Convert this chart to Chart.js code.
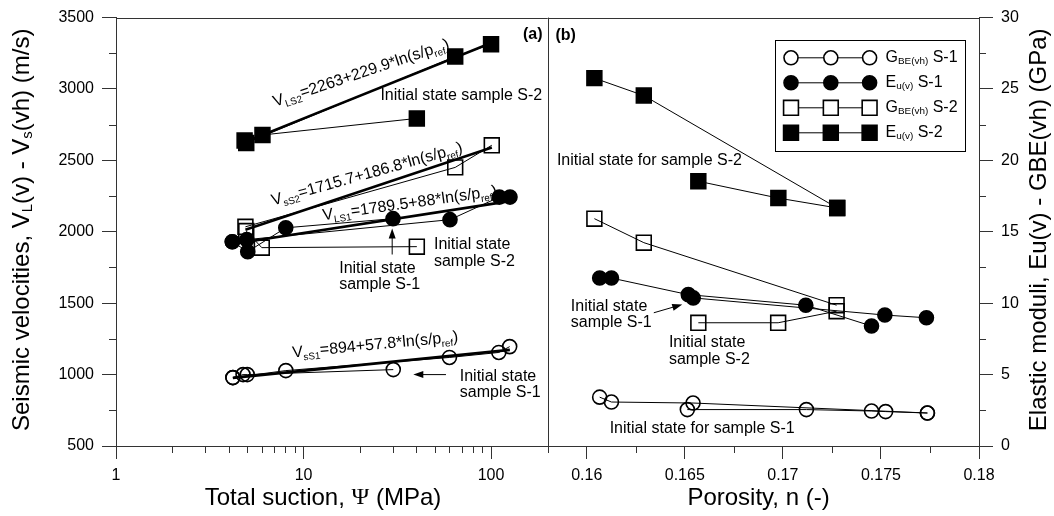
<!DOCTYPE html>
<html>
<head>
<meta charset="utf-8">
<title>Seismic velocities and elastic moduli</title>
<script src="https://cdn.jsdelivr.net/npm/chart.js@4.4.1/dist/chart.umd.min.js"></script>
<style>
  html, body { margin: 0; background: #fff; }
  canvas { display: block; }
</style>
</head>
<body>
<canvas id="plot" width="1054" height="516"></canvas>
<script>
// ---- (a) seismic velocity [m/s] vs total suction [MPa], pairs [suction, velocity] ----
// V_L sample S-2 (filled squares)
const vlS2Wetting = [[40.2, 2794], [6.04, 2678], [4.85, 2640]];
const vlS2Drying = [[4.95, 2622], [64.4, 3227], [100, 3314]];
// V_s sample S-2 (open squares)
const vsS2Wetting = [[40.2, 1896], [5.99, 1889], [4.95, 2005]];
const vsS2Drying = [[4.9, 2035], [64.4, 2451], [100.9, 2606]];
// V_L sample S-1 (filled circles)
const vlS1Wetting = [[30, 2092], [8.04, 2028], [5.04, 1861], [4.17, 1930]];
const vlS1Drying = [[4.17, 1930], [4.98, 1945], [60.4, 2085], [110.7, 2243], [126.2, 2243]];
// V_s sample S-1 (open circles)
const vsS1Wetting = [[30.1, 1035], [5.01, 1000], [4.76, 1000], [4.2, 979]];
const vsS1Drying = [[4.2, 979], [8.05, 1028], [60, 1120], [110, 1155], [125.7, 1196]];
// fitted trends V = a + b*ln(s/p_ref), end points
const fitLS2 = [[4.9, 2630], [100, 3322]];
const fitSS2 = [[4.9, 2015], [101, 2590]];
const fitLS1 = [[4.17, 1915], [126, 2215]];
const fitSS1 = [[4.2, 977], [126, 1173]];

// ---- (b) elastic moduli [GPa] vs porosity [-], pairs [porosity, modulus] ----
const eS2Path1 = [[0.16039, 25.76], [0.16291, 24.54], [0.17277, 16.67]];
const eS2Path2 = [[0.16569, 18.54], [0.16977, 17.36], [0.17277, 16.67]];
const gS2Path1 = [[0.16039, 15.92], [0.16291, 14.24], [0.17274, 9.86]];
const gS2Path2 = [[0.16569, 8.63], [0.16976, 8.63], [0.17274, 9.44]];
const eS1Path1 = [[0.16066, 11.76], [0.16126, 11.76], [0.16518, 10.6], [0.17117, 9.86], [0.17452, 8.4]];
const eS1Path2 = [[0.16543, 10.37], [0.1752, 9.17], [0.17732, 8.98]];
const gS1Path1 = [[0.16066, 3.42], [0.16126, 3.08], [0.16542, 3.01], [0.17737, 2.31]];
const gS1Path2 = [[0.16513, 2.55], [0.1712, 2.55], [0.17452, 2.45], [0.17524, 2.41], [0.17737, 2.31]];

// axis ticks
const suctionTicks = [1, 2, 3, 4, 5, 6, 7, 8, 9, 10, 20, 30, 40, 50, 60, 70, 80, 90, 100, 200];
const suctionLabels = [1, 10, 100];
const porosityTicks = [0.16, 0.1625, 0.165, 0.1675, 0.17, 0.1725, 0.175, 0.1775, 0.18];
const porosityLabels = [0.16, 0.165, 0.17, 0.175, 0.18];

const FONT = '"Liberation Sans", Arial, Helvetica, sans-serif';
const SERIF = '"Liberation Serif", "Times New Roman", serif';
const AXIS = '#333';
const CLEAR = 'rgba(0,0,0,0)';

const openCircle = { shape: 'circle', r: 7, fill: CLEAR };
const filledCircle = { shape: 'circle', r: 7, fill: '#000' };
const openSquare = { shape: 'rect', r: 10.5, fill: CLEAR };
const filledSquare = { shape: 'rect', r: 10.5, fill: '#000' };

// text placed in axis units
const notes = [
  { panel: 'a', x: 25.7, y: 2953, lines: ['Initial state sample S-2'] },
  { panel: 'a', x: 49.6, y: 1908, lines: ['Initial state', 'sample S-2'] },
  { panel: 'a', x: 15.5, y: 1745, lines: ['Initial state', 'sample S-1'] },
  { panel: 'a', x: 68.1, y: 988, lines: ['Initial state', 'sample S-1'] },
  { panel: 'b', x: 0.15848, y: 19.98, lines: ['Initial state for sample S-2'] },
  { panel: 'b', x: 0.15919, y: 9.79, lines: ['Initial state', 'sample S-1'] },
  { panel: 'b', x: 0.16419, y: 7.24, lines: ['Initial state', 'sample S-2'] },
  { panel: 'b', x: 0.16117, y: 1.23, lines: ['Initial state for sample S-1'] },
];
const pointers = [
  { panel: 'a', from: [29.7, 1841], to: [29.7, 2023] },
  { panel: 'a', from: [57.5, 1000], to: [38.5, 1000] },
  { panel: 'b', from: [0.16342, 9.33], to: [0.16487, 9.91] },
];
const fitLabels = [
  { x: 7.05, y: 2875, angle: 18.5, parts: [['V'], ['LS2', 1], ['=2263+229.9*ln(s/p'], ['ref', 1], [')']] },
  { x: 6.88, y: 2185, angle: 15.7, parts: [['V'], ['sS2', 1], ['=1715.7+186.8*ln(s/p'], ['ref', 1], [')']] },
  { x: 12.76, y: 2081, angle: 8, parts: [['V'], ['LS1', 1], ['=1789.5+88*ln(s/p'], ['ref', 1], [')']] },
  { x: 8.76, y: 1120, angle: 5.5, parts: [['V'], ['sS1', 1], ['=894+57.8*ln(s/p'], ['ref', 1], [')']] },
];
const legendRows = [
  { parts: [['G'], ['BE(vh)', 1], [' S-1']], marker: openCircle },
  { parts: [['E'], ['u(v)', 1], [' S-1']], marker: filledCircle },
  { parts: [['G'], ['BE(vh)', 1], [' S-2']], marker: openSquare },
  { parts: [['E'], ['u(v)', 1], [' S-2']], marker: filledSquare },
];

const near = (list) => (v) => list.some((m) => Math.abs(m - v) < 1e-7);
const isDecade = near(suctionLabels);
const isHalfCent = near(porosityLabels);
const isFiveHundred = (v) => Math.abs(v / 500 - Math.round(v / 500)) < 1e-6;
const isFive = (v) => Math.abs(v / 5 - Math.round(v / 5)) < 1e-6;

function series(points, panel, marker) {
  return {
    data: points.map(([x, y]) => ({ x, y })),
    xAxisID: panel === 'a' ? 'xL' : 'xR',
    yAxisID: panel === 'a' ? 'yL' : 'yR',
    showLine: true,
    borderColor: '#000',
    borderWidth: 1,
    pointStyle: marker.shape,
    pointRadius: marker.r,
    pointBackgroundColor: marker.fill,
    pointBorderColor: '#000',
    pointBorderWidth: 1.6,
  };
}
function trend(points) {
  return {
    data: points.map(([x, y]) => ({ x, y })),
    xAxisID: 'xL', yAxisID: 'yL',
    showLine: true, borderColor: '#000', borderWidth: 2.6, pointRadius: 0,
  };
}

function partFont(size, part) {
  const sub = part[1];
  return (sub ? size * 0.62 : size) + 'px ' + (part[2] || FONT);
}
function richWidth(ctx, parts, size) {
  let w = 0;
  for (const p of parts) { ctx.font = partFont(size, p); w += ctx.measureText(p[0]).width; }
  return w;
}
function drawRich(ctx, parts, x, y, size) {
  for (const p of parts) {
    ctx.font = partFont(size, p);
    ctx.fillText(p[0], x, p[1] ? y + size * 0.24 : y);
    x += ctx.measureText(p[0]).width;
  }
}
function drawMarker(ctx, m, x, y, fill) {
  ctx.beginPath();
  if (m.shape === 'circle') ctx.arc(x, y, m.r, 0, Math.PI * 2);
  else { const h = m.r * Math.SQRT1_2; ctx.rect(x - h, y - h, 2 * h, 2 * h); }
  ctx.fillStyle = m.fill === CLEAR ? fill : m.fill;
  ctx.fill();
  ctx.lineWidth = 1.6;
  ctx.strokeStyle = '#000';
  ctx.stroke();
}
function drawArrow(ctx, x1, y1, x2, y2) {
  const a = Math.atan2(y2 - y1, x2 - x1), c = Math.cos(a), s = Math.sin(a);
  ctx.lineWidth = 1;
  ctx.beginPath(); ctx.moveTo(x1, y1); ctx.lineTo(x2 - 6 * c, y2 - 6 * s); ctx.stroke();
  ctx.beginPath();
  ctx.moveTo(x2, y2);
  ctx.lineTo(x2 - 10 * c + 3.5 * s, y2 - 10 * s - 3.5 * c);
  ctx.lineTo(x2 - 10 * c - 3.5 * s, y2 - 10 * s + 3.5 * c);
  ctx.closePath(); ctx.fill();
}
function minorTicks(ctx, scale, isMajor, len) {
  ctx.beginPath();
  for (const t of scale.ticks) {
    if (isMajor(t.value)) continue;
    const p = Math.round(scale.getPixelForValue(t.value)) + 0.5;
    if (scale.isHorizontal()) { ctx.moveTo(p, scale.top); ctx.lineTo(p, scale.top + len); }
    else if (scale.position === 'left') { ctx.moveTo(scale.right, p); ctx.lineTo(scale.right - len, p); }
    else { ctx.moveTo(scale.left, p); ctx.lineTo(scale.left + len, p); }
  }
  ctx.stroke();
}

const panelInk = {
  id: 'panelInk',
  afterDraw(chart) {
    const { ctx, chartArea: area, scales } = chart;
    const pick = (panel) => panel === 'a' ? [scales.xL, scales.yL] : [scales.xR, scales.yR];
    ctx.save();

    // frame top and the panel divider
    ctx.strokeStyle = AXIS; ctx.lineWidth = 1;
    const mid = Math.round(scales.xL.right) + 0.5;
    ctx.beginPath();
    ctx.moveTo(area.left, Math.round(area.top) + 0.5); ctx.lineTo(area.right, Math.round(area.top) + 0.5);
    ctx.moveTo(mid, area.top); ctx.lineTo(mid, area.bottom + 7);
    ctx.stroke();

    // short minor ticks
    minorTicks(ctx, scales.xL, isDecade, 7);
    minorTicks(ctx, scales.xR, isHalfCent, 7);
    minorTicks(ctx, scales.yL, isFiveHundred, 7);
    minorTicks(ctx, scales.yR, isFive, 7);

    ctx.fillStyle = '#000'; ctx.strokeStyle = '#000';
    ctx.textBaseline = 'middle'; ctx.textAlign = 'left';

    // panel tags
    ctx.font = 'bold 16px ' + FONT;
    ctx.textAlign = 'right';
    ctx.fillText('(a)', scales.xL.right - 5, area.top + 17);
    ctx.textAlign = 'left';
    ctx.fillText('(b)', scales.xR.left + 8, area.top + 18);

    // notes and pointers
    ctx.font = '16px ' + FONT;
    for (const n of notes) {
      const [sx, sy] = pick(n.panel);
      const x = sx.getPixelForValue(n.x), y = sy.getPixelForValue(n.y);
      n.lines.forEach((t, i) => ctx.fillText(t, x, y + i * 16.7));
    }
    for (const p of pointers) {
      const [sx, sy] = pick(p.panel);
      drawArrow(ctx, sx.getPixelForValue(p.from[0]), sy.getPixelForValue(p.from[1]),
        sx.getPixelForValue(p.to[0]), sy.getPixelForValue(p.to[1]));
    }

    // fitted-trend equations
    ctx.textBaseline = 'alphabetic';
    for (const f of fitLabels) {
      ctx.save();
      ctx.translate(scales.xL.getPixelForValue(f.x), scales.yL.getPixelForValue(f.y));
      ctx.rotate(-f.angle * Math.PI / 180);
      drawRich(ctx, f.parts, 0, 0, 16);
      ctx.restore();
    }

    // legend
    const lw = 190, lh = 111;
    const lx = Math.round(area.right - 14 - lw) + 0.5, ly = Math.round(area.top + 22) + 0.5;
    ctx.lineWidth = 1;
    ctx.strokeRect(lx, ly, lw, lh);
    legendRows.forEach((row, i) => {
      const y = ly + 17.3 + i * 25;
      const xs = [lx + 15.5, lx + 55.3, lx + 94.1];
      ctx.lineWidth = 1;
      ctx.beginPath(); ctx.moveTo(xs[0], y); ctx.lineTo(xs[2], y); ctx.stroke();
      xs.forEach((x) => drawMarker(ctx, row.marker, x, y, '#fff'));
      ctx.fillStyle = '#000';
      ctx.textBaseline = 'middle';
      drawRich(ctx, row.parts, lx + 110, y, 16);
    });

    // axis titles
    ctx.textBaseline = 'middle';
    const leftTitle = [['Seismic velocities, V'], ['L', 1], ['(v) - V'], ['s', 1], ['(vh) (m/s)']];
    const rightTitle = [['Elastic moduli, Eu(v) - GBE(vh) (GPa)']];
    const bottomA = [['Total suction, '], ['\u03A8', 0, SERIF], [' (MPa)']];
    const bottomB = [['Porosity, n (-)']];
    const cy = (area.top + area.bottom) / 2 - 2;
    for (const [parts, x] of [[leftTitle, 22], [rightTitle, area.right + 60]]) {
      ctx.save();
      ctx.translate(x, cy);
      ctx.rotate(-Math.PI / 2);
      drawRich(ctx, parts, -richWidth(ctx, parts, 24) / 2, 0, 24);
      ctx.restore();
    }
    drawRich(ctx, bottomA, scales.xL.left + 207 - richWidth(ctx, bottomA, 24) / 2, 498, 24);
    drawRich(ctx, bottomB, scales.xR.left + 211 - richWidth(ctx, bottomB, 24) / 2, 498, 24);
    ctx.restore();
  }
};

const tickFont = { family: FONT, size: 16 };
const majorColor = (test) => (c) => (c.tick && test(c.tick.value)) ? AXIS : CLEAR;

new Chart(document.getElementById('plot'), {
  type: 'scatter',
  data: {
    datasets: [
      series(vlS2Wetting, 'a', filledSquare), series(vlS2Drying, 'a', filledSquare),
      series(vsS2Wetting, 'a', openSquare), series(vsS2Drying, 'a', openSquare),
      series(vlS1Wetting, 'a', filledCircle), series(vlS1Drying, 'a', filledCircle),
      series(vsS1Wetting, 'a', openCircle), series(vsS1Drying, 'a', openCircle),
      trend(fitLS2), trend(fitSS2), trend(fitLS1), trend(fitSS1),
      series(eS2Path1, 'b', filledSquare), series(eS2Path2, 'b', filledSquare),
      series(gS2Path1, 'b', openSquare), series(gS2Path2, 'b', openSquare),
      series(eS1Path1, 'b', filledCircle), series(eS1Path2, 'b', filledCircle),
      series(gS1Path1, 'b', openCircle), series(gS1Path2, 'b', openCircle),
    ],
  },
  options: {
    responsive: false,
    animation: false,
    devicePixelRatio: 1,
    layout: { padding: { top: 14, left: 0, right: 0, bottom: 0 } },
    plugins: { legend: { display: false }, tooltip: { enabled: false } },
    scales: {
      xL: {
        type: 'logarithmic', position: 'bottom', stack: 'base', stackWeight: 1,
        min: 1, max: 200,
        afterBuildTicks: (s) => { s.ticks = suctionTicks.map((value) => ({ value })); },
        afterFit: (s) => { s.height = 70; },
        border: { color: AXIS, width: 1 },
        grid: { drawOnChartArea: false, tickLength: 13, tickColor: majorColor(isDecade) },
        ticks: { autoSkip: false, maxRotation: 0, padding: 7, color: '#000', font: tickFont,
          callback: (v) => isDecade(v) ? String(v) : '' },
      },
      xR: {
        type: 'linear', position: 'bottom', stack: 'base', stackWeight: 1,
        min: 0.158, max: 0.18,
        afterBuildTicks: (s) => { s.ticks = porosityTicks.map((value) => ({ value })); },
        afterFit: (s) => { s.height = 70; },
        border: { color: AXIS, width: 1 },
        grid: { drawOnChartArea: false, tickLength: 13, tickColor: majorColor(isHalfCent) },
        ticks: { autoSkip: false, maxRotation: 0, padding: 7, color: '#000', font: tickFont,
          callback: (v) => isHalfCent(v) ? String(+v.toFixed(3)) : '' },
      },
      yL: {
        type: 'linear', position: 'left', min: 500, max: 3500,
        afterFit: (s) => { s.width = 116; },
        border: { color: AXIS, width: 1 },
        grid: { drawOnChartArea: false, tickLength: 14, tickColor: majorColor(isFiveHundred) },
        ticks: { stepSize: 250, autoSkip: false, padding: 8, color: '#000', font: tickFont,
          callback: (v) => isFiveHundred(v) ? String(v) : '' },
      },
      yR: {
        type: 'linear', position: 'right', min: 0, max: 30,
        afterFit: (s) => { s.width = 75; },
        border: { color: AXIS, width: 1 },
        grid: { drawOnChartArea: false, tickLength: 14, tickColor: majorColor(isFive) },
        ticks: { stepSize: 2.5, autoSkip: false, padding: 8, color: '#000', font: tickFont,
          callback: (v) => isFive(v) ? String(v) : '' },
      },
    },
  },
  plugins: [panelInk],
});
</script>
</body>
</html>
